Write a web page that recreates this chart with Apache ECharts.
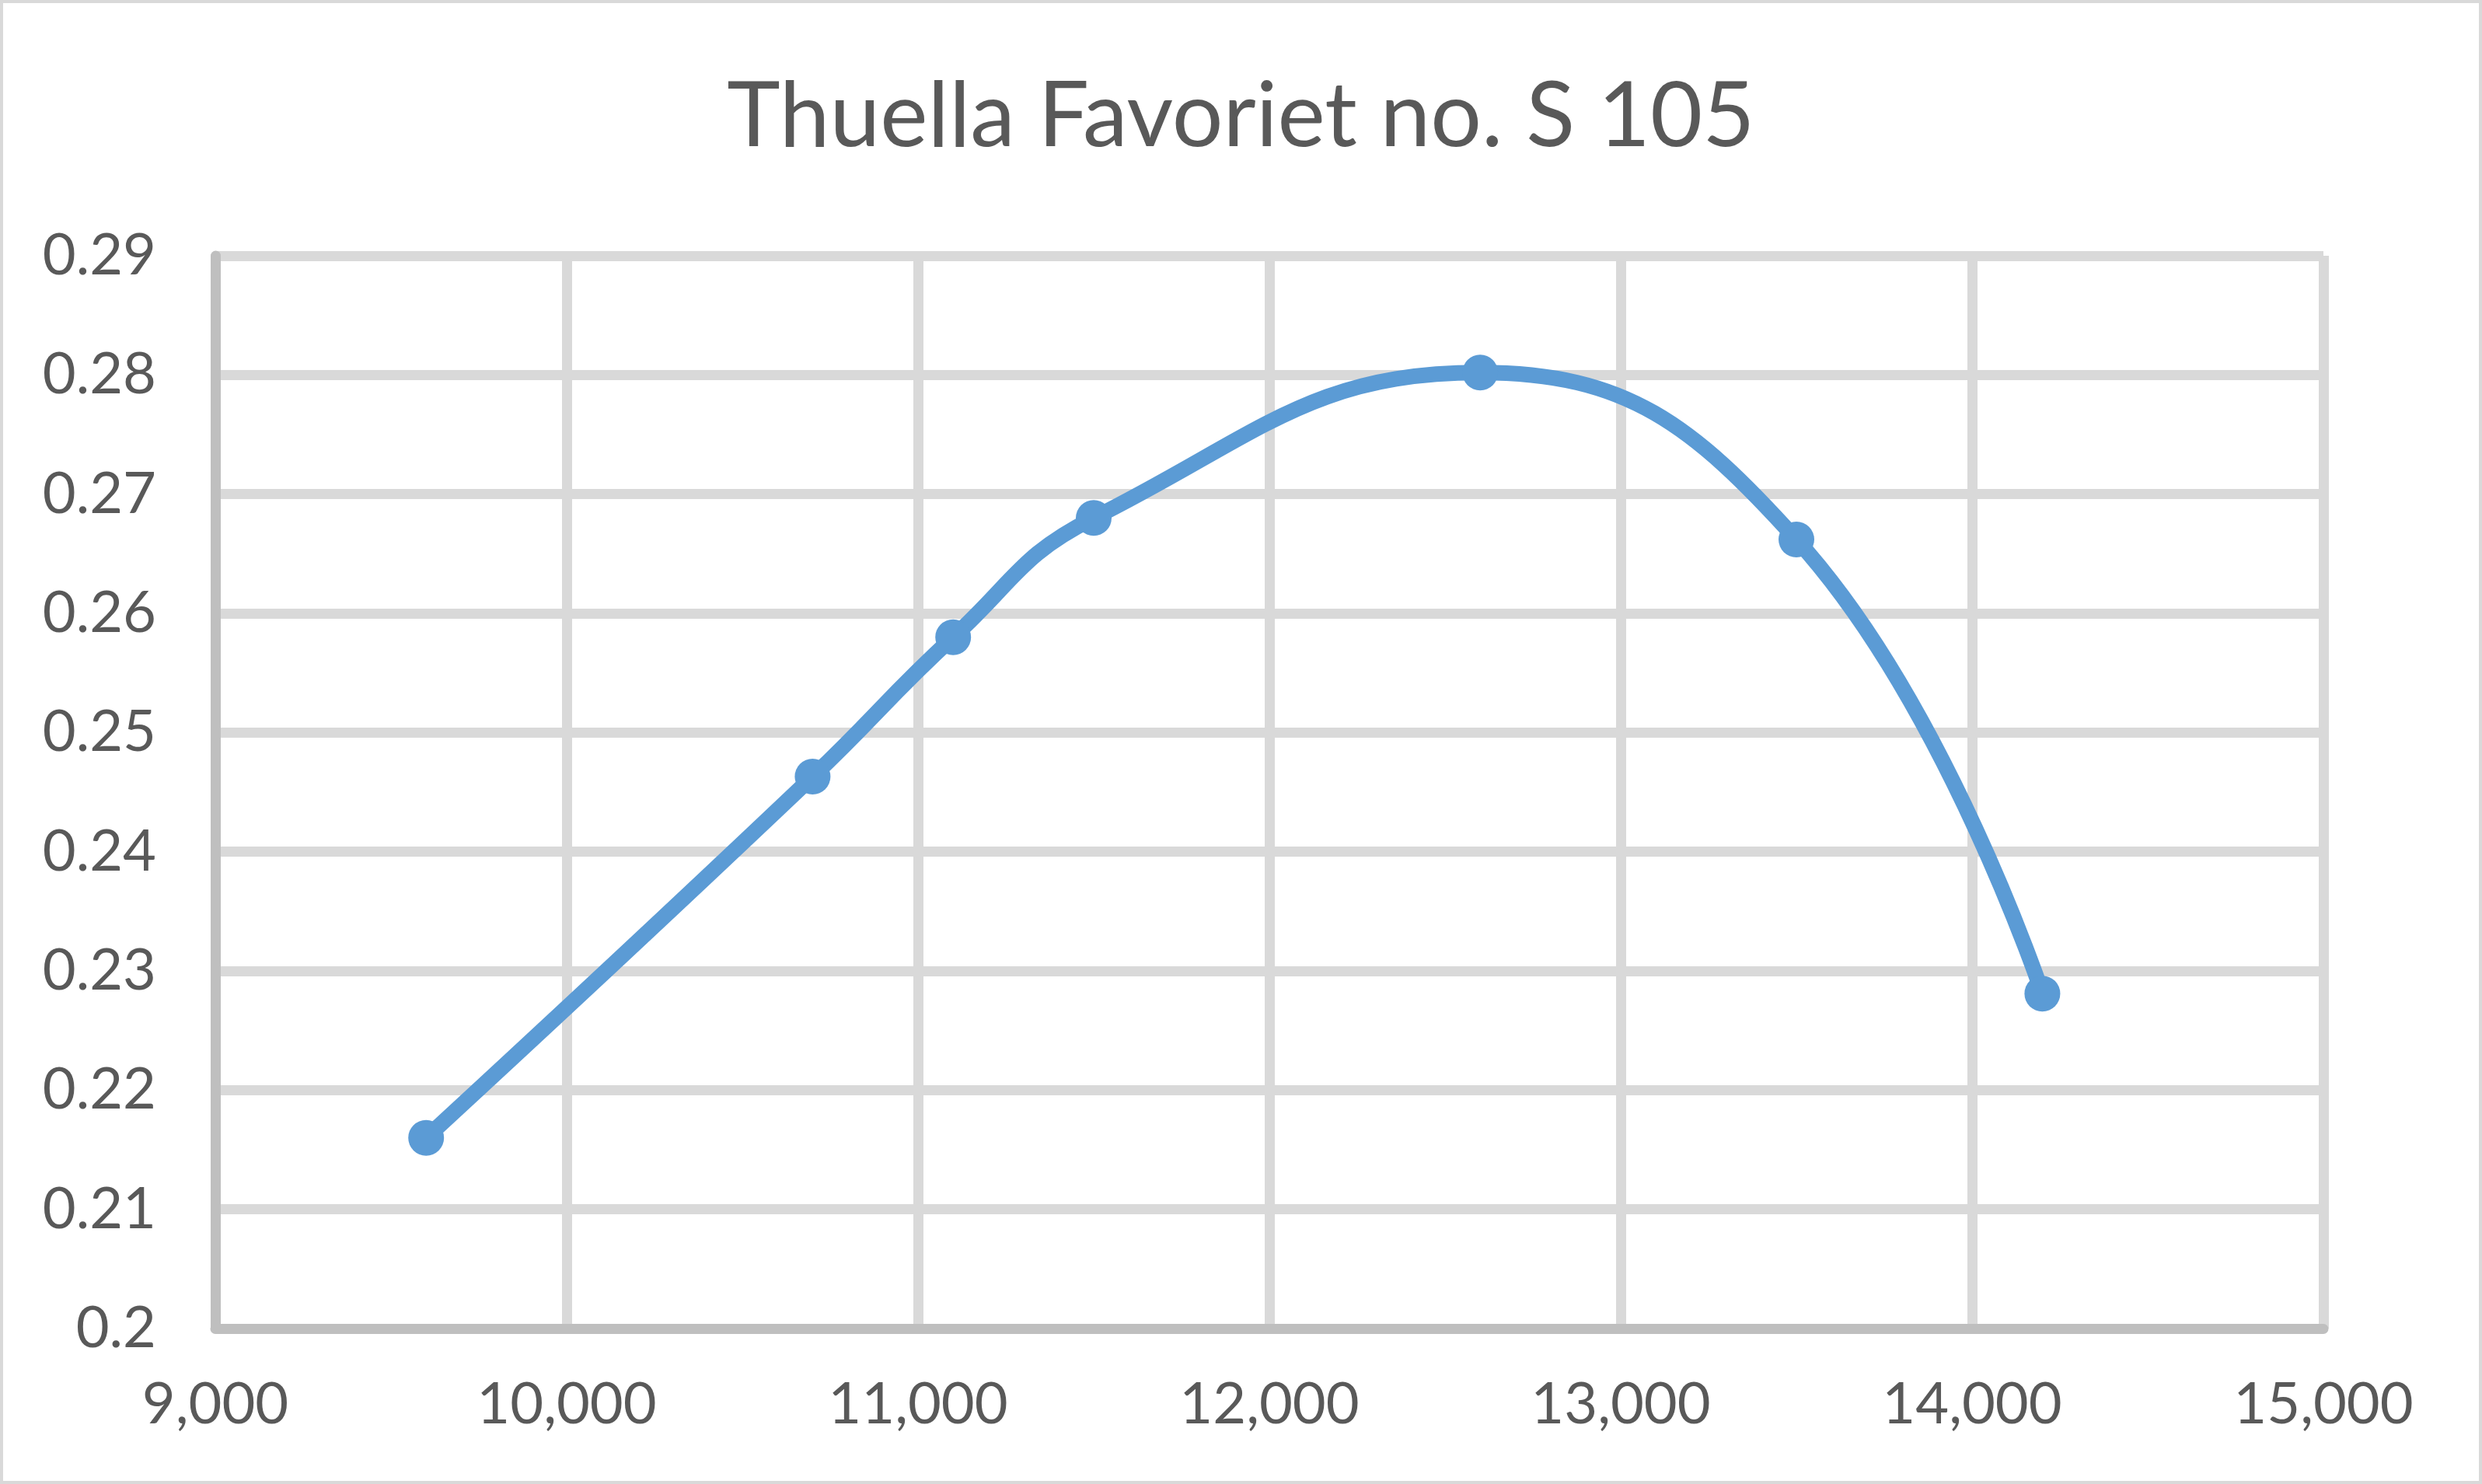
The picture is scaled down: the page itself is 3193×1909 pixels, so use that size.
<!DOCTYPE html>
<html>
<head>
<meta charset="utf-8">
<script src="https://cdn.jsdelivr.net/npm/echarts@6/dist/echarts.min.js"></script>
<style>
html,body{margin:0;padding:0;background:#fff;}
#chart{width:3193px;height:1909px;}
</style>
</head>
<body>
<div id="chart"></div>
<script>
const titleText = 'Thuella Favoriet no. S 105';
const xValues = [9600, 10700, 11100, 11500, 12600, 13500, 14200];
const yValues = [0.216, 0.2463, 0.258, 0.268, 0.2802, 0.2662, 0.2281];
const xTicks = [9000, 15000, 1000];   // min, max, interval
const yTicks = [0.2, 0.29, 0.01];     // min, max, interval

const points = xValues.map((x, i) => [x, yValues[i]]);
const chart = echarts.init(document.getElementById('chart'), null, {renderer: 'canvas'});
const font = 'Lato, "Open Sans", sans-serif';
chart.setOption({
  animation: false,
  backgroundColor: '#ffffff',
  graphic: [{
    type: 'rect',
    shape: {x: 2, y: 2, width: 3189, height: 1905},
    style: {fill: 'none', stroke: '#D9D9D9', lineWidth: 4},
    silent: true
  }],
  title: {
    text: titleText,
    left: 'center',
    top: 88,
    textStyle: {fontFamily: font, fontSize: 116, fontWeight: 'normal', color: '#595959'}
  },
  grid: {left: 277, right: 204, top: 329, bottom: 200, containLabel: false},
  xAxis: {
    type: 'value',
    min: xTicks[0], max: xTicks[1], interval: xTicks[2],
    axisLine: {show: true, lineStyle: {color: '#BFBFBF', width: 13}},
    axisTick: {show: false},
    splitLine: {show: true, lineStyle: {color: '#D9D9D9', width: 13}},
    axisLabel: {
      fontFamily: font, fontSize: 74, color: '#595959', margin: 61,
      formatter: v => v.toLocaleString('en-US')
    }
  },
  yAxis: {
    type: 'value',
    min: yTicks[0], max: yTicks[1], interval: yTicks[2],
    axisLine: {show: true, lineStyle: {color: '#BFBFBF', width: 13}},
    axisTick: {show: false},
    splitLine: {show: true, lineStyle: {color: '#D9D9D9', width: 13}},
    axisLabel: {
      fontFamily: font, fontSize: 74, color: '#595959', margin: 76,
      formatter: v => String(+v.toFixed(2))
    }
  },
  series: [{
    type: 'line',
    data: points,
    smooth: 0.45,
    symbol: 'circle',
    symbolSize: 46,
    lineStyle: {color: '#5B9BD5', width: 20},
    itemStyle: {color: '#5B9BD5'},
    clip: false
  }]
});
</script>
</body>
</html>
